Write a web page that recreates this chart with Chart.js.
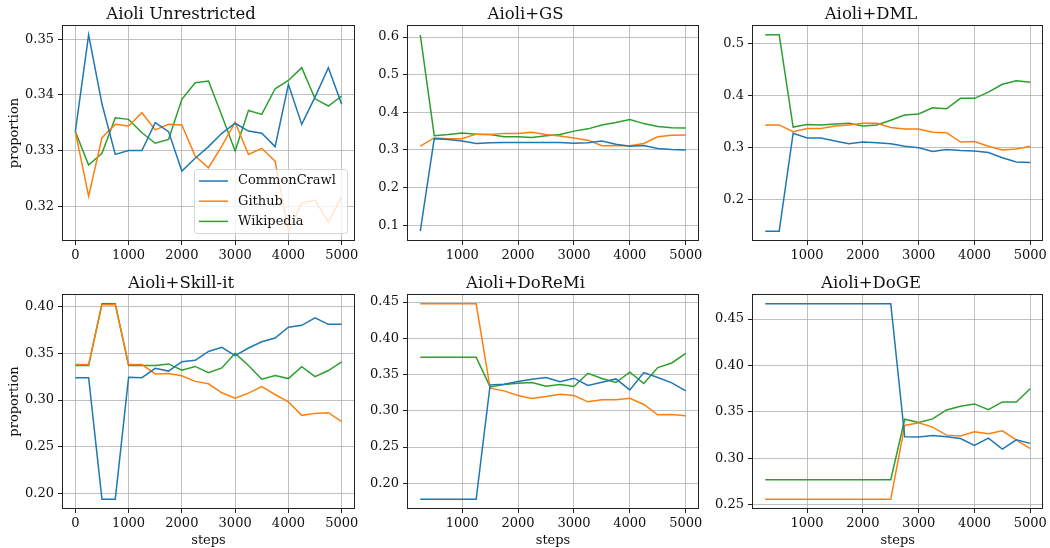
<!DOCTYPE html>
<html>
<head>
  <style>
    body { margin: 0; background: #fff; }
    .panel { position: absolute; left: 0; top: 0; }
  </style>
  <script src="https://cdn.jsdelivr.net/npm/chart.js"></script>
</head>
<body>
  <canvas id="p0" class="panel" width="1050" height="548"></canvas>
  <canvas id="p1" class="panel" width="1050" height="548"></canvas>
  <canvas id="p2" class="panel" width="1050" height="548"></canvas>
  <canvas id="p3" class="panel" width="1050" height="548"></canvas>
  <canvas id="p4" class="panel" width="1050" height="548"></canvas>
  <canvas id="p5" class="panel" width="1050" height="548"></canvas>

  <script>
    // x values
    const stepsFull = [0, 250, 500, 750, 1000, 1250, 1500, 1750, 2000, 2250, 2500, 2750, 3000, 3250, 3500, 3750, 4000, 4250, 4500, 4750, 5000];
    const stepsLate = [250, 500, 750, 1000, 1250, 1500, 1750, 2000, 2250, 2500, 2750, 3000, 3250, 3500, 3750, 4000, 4250, 4500, 4750, 5000];
    const domains = ['CommonCrawl', 'Github', 'Wikipedia'];

    // Aioli Unrestricted
    const ccUnres   = [0.3334, 0.3508, 0.3384, 0.3293, 0.3300, 0.3300, 0.3350, 0.3334, 0.3263, 0.3286, 0.3307, 0.3331, 0.3349, 0.3335, 0.3331, 0.3307, 0.3419, 0.3347, 0.3396, 0.3449, 0.3383];
    const ghUnres   = [0.3334, 0.3218, 0.3323, 0.3347, 0.3344, 0.3368, 0.3337, 0.3347, 0.3346, 0.3290, 0.3269, 0.3308, 0.3351, 0.3293, 0.3304, 0.3281, 0.3155, 0.3205, 0.3211, 0.3171, 0.3217];
    const wikiUnres = [0.3334, 0.3274, 0.3295, 0.3359, 0.3356, 0.3332, 0.3313, 0.3320, 0.3392, 0.3422, 0.3425, 0.3363, 0.3299, 0.3372, 0.3365, 0.3411, 0.3426, 0.3449, 0.3393, 0.3380, 0.3398];

    // Aioli+GS
    const ccGS   = [0.084, 0.330, 0.328, 0.324, 0.317, 0.319, 0.320, 0.320, 0.320, 0.320, 0.320, 0.318, 0.319, 0.324, 0.315, 0.310, 0.312, 0.304, 0.301, 0.300];
    const ghGS   = [0.310, 0.332, 0.330, 0.330, 0.342, 0.341, 0.344, 0.344, 0.347, 0.341, 0.337, 0.332, 0.326, 0.311, 0.312, 0.311, 0.317, 0.335, 0.339, 0.340];
    const wikiGS = [0.606, 0.338, 0.341, 0.345, 0.342, 0.341, 0.335, 0.335, 0.333, 0.338, 0.341, 0.350, 0.356, 0.366, 0.373, 0.381, 0.370, 0.362, 0.359, 0.358];

    // Aioli+DML
    const ccDML   = [0.140, 0.140, 0.328, 0.319, 0.319, 0.313, 0.308, 0.311, 0.310, 0.308, 0.303, 0.300, 0.293, 0.297, 0.295, 0.294, 0.291, 0.281, 0.273, 0.272];
    const ghDML   = [0.344, 0.344, 0.331, 0.337, 0.337, 0.342, 0.344, 0.347, 0.347, 0.339, 0.336, 0.336, 0.330, 0.329, 0.311, 0.312, 0.303, 0.296, 0.298, 0.303];
    const wikiDML = [0.517, 0.517, 0.340, 0.345, 0.344, 0.346, 0.347, 0.342, 0.344, 0.353, 0.363, 0.365, 0.377, 0.375, 0.395, 0.395, 0.407, 0.422, 0.429, 0.426];

    // Aioli+Skill-it
    const ccSkill   = [0.324, 0.324, 0.194, 0.194, 0.3245, 0.324, 0.334, 0.331, 0.341, 0.3426, 0.352, 0.3564, 0.3475, 0.3557, 0.3624, 0.3663, 0.378, 0.380, 0.388, 0.381, 0.381];
    const ghSkill   = [0.338, 0.338, 0.402, 0.402, 0.338, 0.338, 0.328, 0.3284, 0.326, 0.320, 0.3174, 0.3078, 0.302, 0.3074, 0.3145, 0.306, 0.298, 0.2837, 0.2858, 0.2865, 0.277];
    const wikiSkill = [0.337, 0.337, 0.403, 0.403, 0.337, 0.337, 0.337, 0.3387, 0.332, 0.336, 0.3294, 0.3344, 0.350, 0.337, 0.3223, 0.3262, 0.323, 0.3358, 0.325, 0.3316, 0.341];

    // Aioli+DoReMi
    const ccDoReMi   = [0.178, 0.178, 0.178, 0.178, 0.178, 0.3358, 0.3367, 0.3404, 0.3436, 0.3459, 0.340, 0.345, 0.3349, 0.3394, 0.344, 0.3289, 0.3527, 0.3459, 0.3385, 0.3275];
    const ghDoReMi   = [0.4477, 0.4477, 0.4477, 0.4477, 0.4477, 0.3312, 0.3275, 0.3211, 0.317, 0.3197, 0.3229, 0.3211, 0.3124, 0.3151, 0.3151, 0.3174, 0.3087, 0.2945, 0.295, 0.2931];
    const wikiDoReMi = [0.3739, 0.3739, 0.3739, 0.3739, 0.3739, 0.333, 0.3362, 0.3381, 0.339, 0.3339, 0.3362, 0.3335, 0.3518, 0.3445, 0.339, 0.3532, 0.3376, 0.3596, 0.366, 0.3794];

    // Aioli+DoGE
    const ccDoGE   = [0.4664, 0.4664, 0.4664, 0.4664, 0.4664, 0.4664, 0.4664, 0.4664, 0.4664, 0.4664, 0.3232, 0.3229, 0.3246, 0.3232, 0.3214, 0.3139, 0.3218, 0.310, 0.320, 0.3161];
    const ghDoGE   = [0.256, 0.256, 0.256, 0.256, 0.256, 0.256, 0.256, 0.256, 0.256, 0.256, 0.3354, 0.3382, 0.3336, 0.325, 0.324, 0.3286, 0.3264, 0.3296, 0.320, 0.3104];
    const wikiDoGE = [0.2771, 0.2771, 0.2771, 0.2771, 0.2771, 0.2771, 0.2771, 0.2771, 0.2771, 0.2771, 0.3421, 0.3386, 0.3425, 0.3521, 0.356, 0.3586, 0.3525, 0.3607, 0.3607, 0.375];

    // tick labels
    const xTicksFull = [0, 1000, 2000, 3000, 4000, 5000];
    const xTicksLate = [1000, 2000, 3000, 4000, 5000];
    const yTicksUnres = [0.32, 0.33, 0.34, 0.35];
    const yTicksGS = [0.1, 0.2, 0.3, 0.4, 0.5, 0.6];
    const yTicksDML = [0.2, 0.3, 0.4, 0.5];
    const yTicksSkill = [0.20, 0.25, 0.30, 0.35, 0.40];
    const yTicksDoReMi = [0.20, 0.25, 0.30, 0.35, 0.40, 0.45];
    const yTicksDoGE = [0.25, 0.30, 0.35, 0.40, 0.45];

    const colors = ['#1f77b4', '#ff7f0e', '#2ca02c'];
    const FONT = "'DejaVu Serif', 'Liberation Serif', serif";
    const INK = '#111';

    const panels = [
      { title: 'Aioli Unrestricted', xs: stepsFull, series: [ccUnres, ghUnres, wikiUnres], xTicks: xTicksFull, yTicks: yTicksUnres, dec: 2, col: 0, row: 0, legend: true },
      { title: 'Aioli+GS', xs: stepsLate, series: [ccGS, ghGS, wikiGS], xTicks: xTicksLate, yTicks: yTicksGS, dec: 1, col: 1, row: 0 },
      { title: 'Aioli+DML', xs: stepsLate, series: [ccDML, ghDML, wikiDML], xTicks: xTicksLate, yTicks: yTicksDML, dec: 1, col: 2, row: 0 },
      { title: 'Aioli+Skill-it', xs: stepsFull, series: [ccSkill, ghSkill, wikiSkill], xTicks: xTicksFull, yTicks: yTicksSkill, dec: 2, col: 0, row: 1 },
      { title: 'Aioli+DoReMi', xs: stepsLate, series: [ccDoReMi, ghDoReMi, wikiDoReMi], xTicks: xTicksLate, yTicks: yTicksDoReMi, dec: 2, col: 1, row: 1 },
      { title: 'Aioli+DoGE', xs: stepsLate, series: [ccDoGE, ghDoGE, wikiDoGE], xTicks: xTicksLate, yTicks: yTicksDoGE, dec: 2, col: 2, row: 1 }
    ];

    // plot area boxes in page pixels
    const colLeft = [62, 407, 752];
    const colRight = [355, 699, 1045];
    const rowTop = [25, 294];
    const rowBottom = [241, 509];
    const Y_AXIS_W = 55;
    const X_AXIS_H = [22, 39];
    const TITLE_H = 19.8;

    // full matplotlib-like frame around the axes
    const framePlugin = {
      id: 'frame',
      afterDraw(chart) {
        const { ctx, chartArea: a } = chart;
        ctx.save();
        ctx.strokeStyle = '#222';
        ctx.lineWidth = 1;
        ctx.strokeRect(Math.round(a.left) + 0.5, Math.round(a.top) + 0.5,
          Math.round(a.right - a.left) - 1, Math.round(a.bottom - a.top) - 1);
        ctx.restore();
      }
    };

    // legend box sitting inside the lower right corner
    const legendInside = {
      id: 'legendInside',
      afterDatasetsDraw(chart, args, opts) {
        if (!opts.show) return;
        const { ctx, chartArea: a } = chart;
        const w = 153, h = 64;
        const x = a.right - 8 - w, y = a.bottom - 8 - h;
        ctx.save();
        ctx.beginPath();
        if (ctx.roundRect) ctx.roundRect(x + 0.5, y + 0.5, w, h, 3);
        else ctx.rect(x + 0.5, y + 0.5, w, h);
        ctx.fillStyle = 'rgba(255,255,255,0.8)';
        ctx.fill();
        ctx.strokeStyle = 'rgba(204,204,204,0.8)';
        ctx.lineWidth = 1;
        ctx.stroke();
        ctx.font = '13px ' + FONT;
        ctx.textBaseline = 'middle';
        ctx.fillStyle = INK;
        chart.data.datasets.forEach((ds, i) => {
          const ly = y + 12 + i * 20.2;
          ctx.strokeStyle = ds.borderColor;
          ctx.lineWidth = 1.5;
          ctx.beginPath();
          ctx.moveTo(x + 5, ly);
          ctx.lineTo(x + 34, ly);
          ctx.stroke();
          ctx.fillText(ds.label, x + 44, ly);
        });
        ctx.restore();
      }
    };

    panels.forEach((p, idx) => {
      const all = [].concat(...p.series);
      const lo = Math.min(...all), hi = Math.max(...all);
      const pad = (hi - lo) * 0.05;
      const xlo = p.xs[0], xhi = p.xs[p.xs.length - 1];
      const xpad = (xhi - xlo) * 0.05;

      const layoutPad = {
        left: colLeft[p.col] - Y_AXIS_W,
        right: 1050 - colRight[p.col],
        top: rowTop[p.row] - TITLE_H,
        bottom: 548 - rowBottom[p.row] - X_AXIS_H[p.row]
      };

      const datasets = p.series.map((ys, i) => ({
        label: domains[i],
        data: ys.map((y, j) => ({ x: p.xs[j], y: y })),
        borderColor: colors[i],
        backgroundColor: colors[i],
        borderWidth: 1.5,
        pointRadius: 0,
        tension: 0,
        fill: false
      }));

      new Chart(document.getElementById('p' + idx), {
        type: 'line',
        data: { datasets },
        options: {
          responsive: false,
          animation: false,
          events: [],
          layout: { padding: layoutPad },
          scales: {
            x: {
              type: 'linear',
              min: xlo - xpad,
              max: xhi + xpad,
              afterBuildTicks: s => { s.ticks = p.xTicks.map(v => ({ value: v })); },
              afterFit: s => { s.height = X_AXIS_H[p.row]; },
              ticks: {
                color: INK,
                font: { family: FONT, size: 13 },
                padding: 3,
                maxRotation: 0,
                autoSkip: false,
                callback: v => String(v)
              },
              grid: { color: '#b0b0b0', lineWidth: 0.8, tickColor: '#222', tickLength: 4, tickWidth: 1 },
              border: { display: false },
              title: {
                display: p.row === 1,
                text: 'steps',
                color: INK,
                font: { family: FONT, size: 13 },
                padding: 0
              }
            },
            y: {
              min: lo - pad,
              max: hi + pad,
              afterBuildTicks: s => { s.ticks = p.yTicks.map(v => ({ value: v })); },
              afterFit: s => { s.width = Y_AXIS_W; },
              ticks: {
                color: INK,
                font: { family: FONT, size: 13 },
                padding: 4,
                autoSkip: false,
                callback: v => Number(v).toFixed(p.dec)
              },
              grid: { color: '#b0b0b0', lineWidth: 0.8, tickColor: '#222', tickLength: 4, tickWidth: 1 },
              border: { display: false },
              title: {
                display: p.col === 0,
                text: 'proportion',
                color: INK,
                font: { family: FONT, size: 13 },
                padding: 0
              }
            }
          },
          plugins: {
            legend: { display: false },
            tooltip: { enabled: false },
            title: {
              display: true,
              text: p.title,
              color: INK,
              font: { family: FONT, size: 16.5, weight: 'normal', lineHeight: 1.2 },
              padding: 0
            },
            legendInside: { show: !!p.legend }
          }
        },
        plugins: [framePlugin, legendInside]
      });
    });
  </script>
</body>
</html>
